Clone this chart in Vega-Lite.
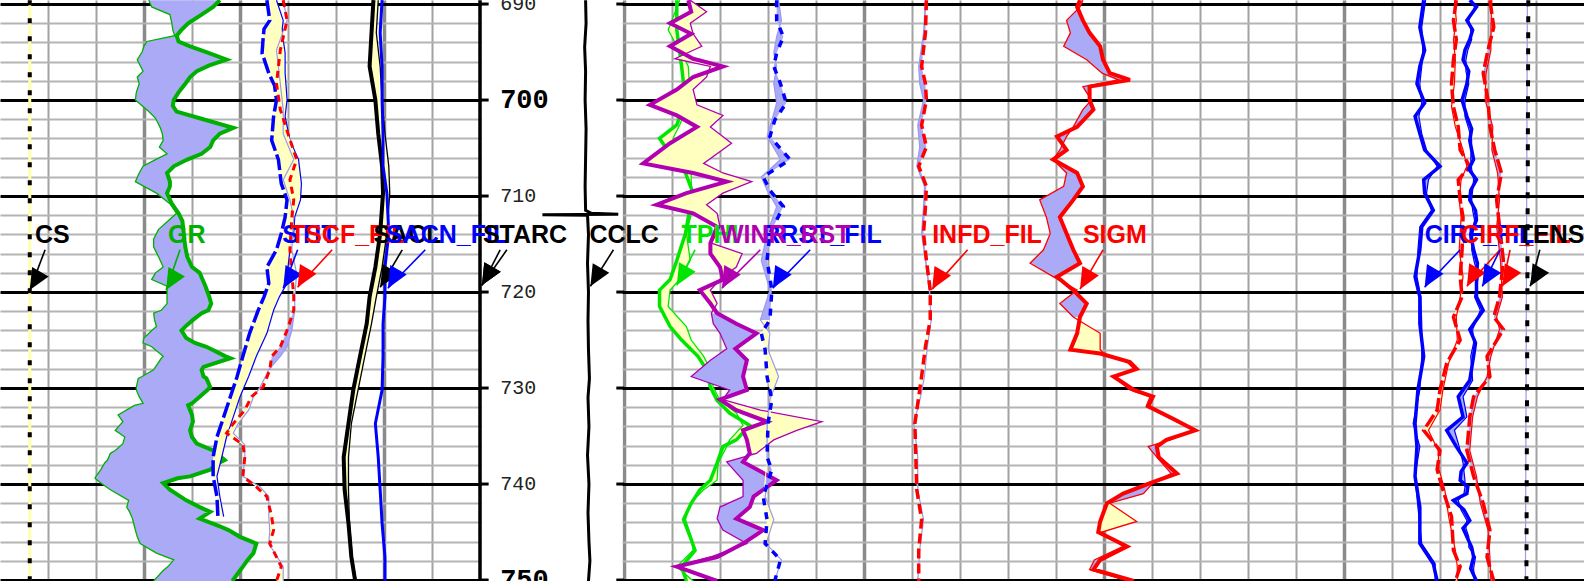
{
"$schema":"https://vega.github.io/schema/vega-lite/v6.json",
"width":1584,"height":581,"padding":0,
"autosize":{"type":"none"},
"background":"white",
"config":{"view":{"stroke":null},"axis":{"minExtent":0,"maxExtent":0,"labels":false,"ticks":false,"domain":false}},
"datasets":{
"gr":[{"d":689.6,"a":15.5,"b":22.9},{"d":690.3,"a":15.8,"b":22.2},{"d":691.1,"a":17.7,"b":21.0},{"d":692.0,"a":17.9,"b":19.6},{"d":692.7,"a":18.0,"b":18.9},{"d":693.3,"a":18.2,"b":18.4},{"d":693.9,"a":15.3,"b":18.6},{"d":694.4,"a":15.0,"b":19.8},{"d":695.0,"a":14.8,"b":21.5},{"d":695.8,"a":14.3,"b":23.6},{"d":696.4,"a":14.6,"b":21.8},{"d":697.0,"a":14.9,"b":20.5},{"d":697.6,"a":14.3,"b":19.8},{"d":698.3,"a":14.5,"b":19.3},{"d":699.2,"a":14.2,"b":18.6},{"d":700.0,"a":14.1,"b":18.1},{"d":700.6,"a":14.8,"b":18.0},{"d":701.2,"a":15.5,"b":18.4},{"d":701.9,"a":16.2,"b":20.8},{"d":702.9,"a":16.7,"b":24.3},{"d":703.5,"a":16.9,"b":22.9},{"d":704.2,"a":17.0,"b":22.2},{"d":704.9,"a":16.6,"b":21.9},{"d":705.6,"a":17.4,"b":21.0},{"d":706.2,"a":16.2,"b":19.5},{"d":706.9,"a":14.9,"b":18.1},{"d":707.6,"a":14.5,"b":17.4},{"d":708.5,"a":14.1,"b":17.7},{"d":709.0,"a":15.0,"b":17.7},{"d":709.7,"a":16.3,"b":17.4},{"d":710.8,"a":17.7,"b":17.9},{"d":711.8,"a":18.4,"b":18.6},{"d":712.6,"a":17.5,"b":19.0},{"d":713.5,"a":16.5,"b":19.1},{"d":714.5,"a":16.0,"b":19.2},{"d":715.3,"a":16.0,"b":19.3},{"d":716.3,"a":16.5,"b":19.5},{"d":717.4,"a":17.0,"b":20.0},{"d":718.0,"a":16.2,"b":20.8},{"d":718.7,"a":15.8,"b":21.1},{"d":719.4,"a":17.4,"b":21.4},{"d":720.5,"a":17.4,"b":21.8},{"d":721.2,"a":17.4,"b":22.0},{"d":721.9,"a":16.8,"b":21.7},{"d":722.2,"a":16.0,"b":21.0},{"d":722.9,"a":16.1,"b":20.1},{"d":723.6,"a":16.3,"b":19.3},{"d":724.0,"a":15.8,"b":18.9},{"d":724.8,"a":15.0,"b":19.4},{"d":725.3,"a":14.9,"b":20.3},{"d":725.7,"a":15.8,"b":21.5},{"d":726.7,"a":17.0,"b":23.5},{"d":726.9,"a":16.8,"b":24.0},{"d":727.8,"a":16.2,"b":21.2},{"d":728.1,"a":16.0,"b":21.0},{"d":728.8,"a":14.8,"b":21.2},{"d":729.0,"a":14.4,"b":21.5},{"d":729.9,"a":14.2,"b":21.9},{"d":730.2,"a":14.2,"b":21.6},{"d":730.9,"a":14.5,"b":20.8},{"d":731.6,"a":14.9,"b":20.0},{"d":731.8,"a":14.0,"b":19.6},{"d":732.8,"a":12.3,"b":20.0},{"d":733.5,"a":12.8,"b":20.1},{"d":734.4,"a":12.0,"b":19.8},{"d":735.1,"a":13.0,"b":20.0},{"d":735.8,"a":12.8,"b":20.5},{"d":736.5,"a":12.0,"b":22.2},{"d":736.8,"a":11.5,"b":22.6},{"d":737.5,"a":11.2,"b":23.4},{"d":737.8,"a":10.9,"b":22.8},{"d":738.5,"a":10.5,"b":21.9},{"d":739.2,"a":10.0,"b":19.8},{"d":739.4,"a":9.9,"b":18.5},{"d":739.9,"a":10.5,"b":17.0},{"d":740.6,"a":11.5,"b":17.7},{"d":741.7,"a":13.4,"b":19.4},{"d":742.4,"a":13.2,"b":20.8},{"d":742.9,"a":13.5,"b":21.9},{"d":743.6,"a":13.8,"b":20.8},{"d":744.4,"a":14.0,"b":22.9},{"d":744.8,"a":14.1,"b":23.8},{"d":745.5,"a":14.3,"b":25.0},{"d":746.2,"a":14.6,"b":26.7},{"d":747.2,"a":16.3,"b":26.4},{"d":747.9,"a":18.1,"b":25.8},{"d":748.6,"a":17.5,"b":25.3},{"d":749.0,"a":17.0,"b":25.0},{"d":750.1,"a":16.0,"b":24.2}],
"sti":[{"d":689.6,"a":27.8,"b":28.8},{"d":691.7,"a":28.1,"b":29.5},{"d":692.6,"a":27.5,"b":29.4},{"d":693.7,"a":27.4,"b":29.5},{"d":695.1,"a":27.3,"b":29.7},{"d":697.2,"a":28.0,"b":29.7},{"d":698.5,"a":28.6,"b":29.8},{"d":700.0,"a":28.8,"b":29.9},{"d":701.7,"a":28.5,"b":29.7},{"d":704.2,"a":28.3,"b":30.2},{"d":706.2,"a":29.0,"b":31.1},{"d":708.7,"a":29.3,"b":31.4},{"d":710.4,"a":29.9,"b":31.3},{"d":712.2,"a":29.7,"b":30.7},{"d":713.9,"a":29.3,"b":30.6},{"d":715.6,"a":28.8,"b":30.2},{"d":717.4,"a":27.8,"b":30.0},{"d":719.1,"a":28.0,"b":29.9},{"d":720.5,"a":27.5,"b":29.1},{"d":721.9,"a":26.9,"b":28.5},{"d":724.3,"a":26.0,"b":27.8},{"d":726.7,"a":25.3,"b":26.7},{"d":728.8,"a":24.7,"b":25.9},{"d":730.9,"a":24.0,"b":25.0},{"d":733.0,"a":23.3,"b":24.3},{"d":735.1,"a":22.6,"b":23.6},{"d":737.2,"a":22.2,"b":23.1},{"d":739.2,"a":22.2,"b":22.6},{"d":741.3,"a":22.6,"b":22.9},{"d":743.4,"a":22.7,"b":23.3}],
"scf":[{"d":689.6,"a":29.5,"b":29.5},{"d":691.7,"a":29.9,"b":29.9},{"d":694.8,"a":29.2,"b":28.8},{"d":698.3,"a":28.8,"b":29.2},{"d":701.0,"a":29.2,"b":29.5},{"d":703.5,"a":30.0,"b":29.5},{"d":706.2,"a":30.9,"b":30.6},{"d":708.3,"a":30.2,"b":29.5},{"d":710.4,"a":30.6,"b":30.2},{"d":712.2,"a":30.4,"b":30.6},{"d":715.6,"a":30.2,"b":30.4},{"d":718.1,"a":30.4,"b":30.9},{"d":720.5,"a":30.6,"b":30.7},{"d":721.9,"a":30.6,"b":30.7},{"d":724.0,"a":29.9,"b":30.4},{"d":725.7,"a":29.2,"b":29.9},{"d":726.7,"a":28.3,"b":29.2},{"d":728.1,"a":28.1,"b":28.0},{"d":729.9,"a":27.4,"b":27.1},{"d":730.9,"a":26.2,"b":26.4},{"d":732.3,"a":25.5,"b":25.9},{"d":733.7,"a":24.3,"b":24.8},{"d":734.7,"a":23.6,"b":24.3},{"d":735.9,"a":25.3,"b":25.5},{"d":737.2,"a":25.5,"b":25.5},{"d":739.2,"a":25.3,"b":25.3},{"d":740.3,"a":26.7,"b":27.1},{"d":741.3,"a":27.8,"b":28.0},{"d":743.4,"a":28.3,"b":28.0},{"d":744.8,"a":28.5,"b":28.1},{"d":746.2,"a":28.1,"b":28.0},{"d":748.6,"a":29.3,"b":29.5},{"d":750.1,"a":28.8,"b":29.5}],
"sac":[{"d":689.6,"a":38.9,"b":39.4,"c":39.8},{"d":693.0,"a":38.7,"b":39.2,"c":39.6},{"d":696.5,"a":38.5,"b":39.6,"c":39.8},{"d":700.0,"a":39.1,"b":39.8,"c":39.8},{"d":703.5,"a":39.4,"b":40.1,"c":39.9},{"d":706.9,"a":39.8,"b":40.5,"c":39.9},{"d":709.7,"a":39.9,"b":40.6,"c":40.3},{"d":713.9,"a":39.6,"b":40.3,"c":40.5},{"d":717.4,"a":39.1,"b":39.8,"c":40.1},{"d":720.5,"a":38.5,"b":39.2,"c":40.1},{"d":723.3,"a":38.2,"b":38.7,"c":39.9},{"d":726.7,"a":37.5,"b":38.0,"c":39.9},{"d":730.2,"a":36.8,"b":37.3,"c":39.8},{"d":733.7,"a":36.3,"b":36.6,"c":39.1},{"d":737.2,"a":35.8,"b":36.3,"c":39.4},{"d":740.6,"a":35.9,"b":36.3,"c":39.6},{"d":744.1,"a":36.3,"b":36.4,"c":39.8},{"d":747.6,"a":36.6,"b":36.7,"c":40.1},{"d":750.1,"a":37.0,"b":37.1,"c":40.1}],
"cs":[{"d":689.6,"v":3.1},{"d":750.1,"v":3.1}],
"starc":[{"d":689.6,"v":50.0},{"d":750.1,"v":50.0}],
"cclc":[{"d":689.6,"v":61.0},{"d":692.0,"v":61.05},{"d":694.5,"v":60.9},{"d":697.0,"v":61.0},{"d":700.0,"v":60.95},{"d":703.0,"v":61.05},{"d":706.0,"v":61.0},{"d":709.0,"v":60.95},{"d":711.5,"v":61.0},{"d":711.8,"v":61.6},{"d":711.9,"v":64.4},{"d":711.95,"v":56.5},{"d":712.0,"v":61.2},{"d":714.0,"v":61.3},{"d":717.0,"v":61.2},{"d":720.0,"v":61.3},{"d":723.0,"v":61.25},{"d":726.0,"v":61.3},{"d":729.0,"v":61.4},{"d":731.0,"v":61.25},{"d":734.0,"v":61.35},{"d":737.0,"v":61.2},{"d":740.0,"v":61.35},{"d":743.0,"v":61.25},{"d":746.0,"v":61.35},{"d":748.0,"v":61.45},{"d":750.1,"v":61.3}],
"tphi":[{"d":689.6,"a":70.5,"b":70.8},{"d":692.7,"a":70.5,"b":69.6},{"d":696.5,"a":71.0,"b":71.7},{"d":700.0,"a":71.4,"b":71.9},{"d":702.6,"a":70.5,"b":70.8},{"d":704.0,"a":68.7,"b":70.1},{"d":705.6,"a":69.8,"b":71.0},{"d":707.6,"a":71.4,"b":72.0},{"d":709.7,"a":72.2,"b":72.0},{"d":711.1,"a":71.9,"b":72.2},{"d":713.9,"a":71.4,"b":71.5},{"d":716.7,"a":70.5,"b":71.9},{"d":718.7,"a":69.8,"b":70.8},{"d":719.8,"a":68.7,"b":69.8},{"d":721.5,"a":68.7,"b":69.6},{"d":723.6,"a":69.8,"b":71.5},{"d":725.0,"a":71.0,"b":72.0},{"d":726.7,"a":72.7,"b":73.3},{"d":728.1,"a":73.6,"b":74.0},{"d":729.9,"a":74.0,"b":74.3},{"d":731.3,"a":74.7,"b":75.0},{"d":732.6,"a":76.0,"b":76.7},{"d":733.9,"a":78.1,"b":77.4},{"d":735.4,"a":76.7,"b":76.0},{"d":736.1,"a":75.3,"b":75.7},{"d":737.8,"a":74.7,"b":74.8},{"d":739.6,"a":74.0,"b":74.7},{"d":740.6,"a":72.9,"b":73.3},{"d":742.0,"a":72.0,"b":71.9},{"d":743.7,"a":71.2,"b":71.4},{"d":745.5,"a":71.9,"b":72.0},{"d":746.9,"a":72.4,"b":72.2},{"d":748.6,"a":71.0,"b":70.5},{"d":750.1,"a":71.5,"b":72.2}],
"win":[{"d":689.6,"a":71.7,"b":71.9},{"d":690.8,"a":72.0,"b":73.6},{"d":692.0,"a":69.8,"b":71.9},{"d":693.1,"a":72.0,"b":72.2},{"d":694.4,"a":69.8,"b":73.1},{"d":695.7,"a":72.2,"b":70.3},{"d":696.5,"a":75.3,"b":74.0},{"d":697.6,"a":72.2,"b":73.6},{"d":698.9,"a":70.5,"b":72.2},{"d":700.5,"a":67.7,"b":72.6},{"d":701.6,"a":70.5,"b":75.3},{"d":702.8,"a":72.6,"b":74.0},{"d":704.5,"a":69.8,"b":76.2},{"d":706.6,"a":67.0,"b":73.3},{"d":707.6,"a":72.2,"b":75.3},{"d":708.5,"a":75.7,"b":78.3},{"d":709.7,"a":71.5,"b":75.3},{"d":710.9,"a":68.4,"b":73.6},{"d":711.8,"a":72.2,"b":74.7},{"d":713.2,"a":74.7,"b":75.0},{"d":714.9,"a":74.0,"b":74.1},{"d":716.0,"a":74.0,"b":77.3},{"d":717.4,"a":75.0,"b":76.7},{"d":718.7,"a":75.3,"b":75.0},{"d":719.8,"a":72.9,"b":74.0},{"d":721.2,"a":74.0,"b":74.7},{"d":722.2,"a":74.7,"b":74.1},{"d":723.3,"a":76.7,"b":74.3},{"d":724.3,"a":78.8,"b":75.0},{"d":725.9,"a":76.6,"b":75.7},{"d":727.1,"a":77.8,"b":74.0},{"d":728.8,"a":77.4,"b":72.0},{"d":730.2,"a":77.8,"b":76.0},{"d":731.2,"a":75.0,"b":75.3},{"d":732.3,"a":76.7,"b":79.2},{"d":733.5,"a":79.9,"b":85.6},{"d":734.4,"a":77.4,"b":83.0},{"d":735.4,"a":77.8,"b":80.6},{"d":736.8,"a":78.1,"b":78.8},{"d":737.7,"a":77.4,"b":75.7},{"d":739.6,"a":80.9,"b":77.4},{"d":741.3,"a":78.5,"b":77.4},{"d":742.4,"a":78.1,"b":75.0},{"d":743.6,"a":76.7,"b":74.7},{"d":744.8,"a":79.5,"b":75.3},{"d":746.2,"a":77.4,"b":77.8},{"d":747.6,"a":74.7,"b":74.0},{"d":748.6,"a":70.5,"b":70.3},{"d":750.1,"a":74.7,"b":74.7}],
"rrst":[{"d":689.6,"a":80.9,"b":81.1},{"d":691.7,"a":80.9,"b":81.4},{"d":693.4,"a":81.6,"b":80.9},{"d":695.1,"a":80.9,"b":80.6},{"d":696.5,"a":80.6,"b":80.9},{"d":698.3,"a":81.3,"b":80.6},{"d":700.3,"a":81.9,"b":80.9},{"d":702.1,"a":80.7,"b":80.4},{"d":703.8,"a":80.2,"b":79.9},{"d":706.2,"a":82.3,"b":81.3},{"d":708.0,"a":79.5,"b":79.3},{"d":709.4,"a":80.2,"b":79.9},{"d":711.1,"a":81.6,"b":80.9},{"d":713.9,"a":80.2,"b":79.9},{"d":716.7,"a":79.9,"b":79.3},{"d":719.8,"a":80.4,"b":80.2},{"d":722.9,"a":80.2,"b":79.2},{"d":724.3,"a":79.3,"b":80.2},{"d":726.0,"a":79.7,"b":80.0},{"d":728.8,"a":79.9,"b":81.1},{"d":731.2,"a":80.4,"b":80.2},{"d":733.7,"a":80.0,"b":79.9},{"d":737.2,"a":79.9,"b":79.9},{"d":738.5,"a":80.4,"b":80.2},{"d":741.3,"a":79.5,"b":79.7},{"d":743.7,"a":79.9,"b":80.6},{"d":746.2,"a":79.7,"b":79.8},{"d":747.9,"a":81.3,"b":81.4},{"d":750.1,"a":80.7,"b":80.7}],
"infd":[{"d":689.6,"a":96.5,"b":96.4},{"d":693.0,"a":96.4,"b":96.2},{"d":696.5,"a":96.0,"b":95.7},{"d":698.3,"a":96.4,"b":95.8},{"d":700.0,"a":96.5,"b":96.2},{"d":702.6,"a":96.0,"b":95.6},{"d":704.9,"a":96.5,"b":95.8},{"d":706.9,"a":95.7,"b":95.5},{"d":709.0,"a":96.5,"b":96.3},{"d":711.1,"a":96.4,"b":96.2},{"d":713.9,"a":96.2,"b":96.0},{"d":716.7,"a":96.5,"b":96.4},{"d":719.8,"a":96.9,"b":96.8},{"d":722.9,"a":96.9,"b":97.0},{"d":725.7,"a":96.4,"b":96.6},{"d":728.8,"a":96.0,"b":96.3},{"d":730.9,"a":95.7,"b":95.9},{"d":733.7,"a":95.3,"b":95.2},{"d":737.2,"a":95.4,"b":95.6},{"d":740.6,"a":95.5,"b":95.6},{"d":743.7,"a":96.0,"b":96.2},{"d":746.9,"a":95.7,"b":95.8},{"d":750.1,"a":95.7,"b":95.6}],
"sigm":[{"d":689.6,"a":112.5,"b":112.8},{"d":690.3,"a":112.2,"b":112.5},{"d":691.7,"a":112.8,"b":111.1},{"d":693.0,"a":113.5,"b":111.5},{"d":694.4,"a":114.6,"b":110.8},{"d":695.8,"a":114.9,"b":113.2},{"d":697.2,"a":115.6,"b":114.8},{"d":697.9,"a":117.7,"b":116.5},{"d":698.6,"a":113.5,"b":112.8},{"d":700.0,"a":113.5,"b":113.7},{"d":701.0,"a":113.9,"b":112.8},{"d":702.8,"a":112.2,"b":111.8},{"d":703.8,"a":110.1,"b":111.1},{"d":705.2,"a":111.1,"b":110.4},{"d":706.2,"a":109.7,"b":109.7},{"d":707.6,"a":112.2,"b":111.1},{"d":709.0,"a":112.8,"b":110.8},{"d":710.4,"a":111.8,"b":108.3},{"d":712.2,"a":110.4,"b":109.0},{"d":713.9,"a":111.1,"b":109.4},{"d":715.6,"a":111.8,"b":108.7},{"d":717.0,"a":112.5,"b":107.3},{"d":718.4,"a":110.1,"b":109.7},{"d":719.8,"a":111.8,"b":112.2},{"d":721.2,"a":113.2,"b":110.4},{"d":722.6,"a":112.5,"b":111.8},{"d":724.3,"a":112.2,"b":114.6},{"d":726.0,"a":111.5,"b":114.6},{"d":726.4,"a":114.6,"b":115.0},{"d":727.3,"a":117.7,"b":117.4},{"d":728.0,"a":118.4,"b":118.1},{"d":728.8,"a":116.0,"b":116.0},{"d":730.2,"a":118.1,"b":117.7},{"d":730.9,"a":120.1,"b":119.8},{"d":731.9,"a":119.6,"b":119.4},{"d":733.2,"a":122.2,"b":121.9},{"d":734.4,"a":124.5,"b":124.3},{"d":735.4,"a":121.5,"b":121.9},{"d":736.1,"a":120.5,"b":119.6},{"d":737.2,"a":120.7,"b":120.5},{"d":738.9,"a":122.6,"b":122.0},{"d":739.9,"a":119.8,"b":120.1},{"d":741.0,"a":117.0,"b":119.1},{"d":742.0,"a":115.3,"b":115.6},{"d":743.9,"a":114.6,"b":118.4},{"d":745.0,"a":114.4,"b":114.8},{"d":746.5,"a":117.4,"b":117.0},{"d":747.9,"a":114.6,"b":114.0},{"d":748.9,"a":113.9,"b":113.5},{"d":750.1,"a":118.1,"b":117.5}],
"cirf1":[{"d":689.6,"a":148.3,"b":148.5},{"d":692.4,"a":147.9,"b":148.1},{"d":694.8,"a":148.4,"b":148.2},{"d":696.5,"a":147.9,"b":148.1},{"d":698.3,"a":147.6,"b":147.9},{"d":700.3,"a":148.4,"b":148.1},{"d":701.7,"a":147.4,"b":147.8},{"d":703.5,"a":147.9,"b":148.1},{"d":705.2,"a":148.4,"b":148.6},{"d":706.9,"a":150.0,"b":149.7},{"d":708.3,"a":148.3,"b":148.8},{"d":709.7,"a":148.4,"b":148.6},{"d":711.5,"a":149.3,"b":149.1},{"d":713.2,"a":148.1,"b":147.9},{"d":715.6,"a":147.9,"b":147.7},{"d":718.4,"a":147.4,"b":147.6},{"d":720.5,"a":147.9,"b":148.0},{"d":723.3,"a":147.9,"b":148.1},{"d":726.7,"a":148.3,"b":148.1},{"d":730.2,"a":147.7,"b":147.9},{"d":733.7,"a":147.4,"b":147.2},{"d":736.1,"a":147.6,"b":147.9},{"d":739.2,"a":147.4,"b":147.4},{"d":742.4,"a":147.9,"b":147.7},{"d":746.2,"a":147.9,"b":148.1},{"d":748.3,"a":149.3,"b":149.5},{"d":750.1,"a":149.7,"b":149.5}],
"cirf2":[{"d":689.6,"a":151.7,"b":151.5},{"d":691.7,"a":151.4,"b":151.7},{"d":693.7,"a":151.7,"b":151.4},{"d":695.8,"a":151.4,"b":151.6},{"d":698.3,"a":151.2,"b":151.5},{"d":700.7,"a":151.4,"b":151.2},{"d":702.8,"a":151.9,"b":151.6},{"d":705.2,"a":152.1,"b":152.4},{"d":706.9,"a":153.1,"b":152.8},{"d":708.3,"a":151.9,"b":152.2},{"d":710.4,"a":152.1,"b":152.0},{"d":712.2,"a":152.4,"b":152.2},{"d":715.6,"a":152.3,"b":152.0},{"d":718.4,"a":152.1,"b":152.4},{"d":720.5,"a":152.3,"b":152.1},{"d":722.6,"a":151.4,"b":151.7},{"d":725.0,"a":152.1,"b":151.8},{"d":727.4,"a":150.7,"b":150.9},{"d":730.2,"a":150.0,"b":150.3},{"d":732.3,"a":149.7,"b":150.0},{"d":734.4,"a":148.3,"b":148.8},{"d":736.5,"a":150.0,"b":149.8},{"d":738.5,"a":149.7,"b":149.9},{"d":740.6,"a":150.3,"b":150.5},{"d":743.4,"a":151.2,"b":150.9},{"d":746.9,"a":151.4,"b":151.6},{"d":748.6,"a":152.1,"b":151.8},{"d":750.1,"a":151.6,"b":151.8}],
"cirn1":[{"d":689.6,"a":153.1,"b":153.3},{"d":690.3,"a":153.8,"b":153.6},{"d":691.7,"a":152.8,"b":153.0},{"d":692.7,"a":153.4,"b":153.2},{"d":693.7,"a":153.1,"b":153.3},{"d":694.8,"a":152.6,"b":152.9},{"d":695.8,"a":152.4,"b":152.7},{"d":697.0,"a":153.0,"b":152.7},{"d":698.3,"a":152.8,"b":153.0},{"d":700.0,"a":152.3,"b":152.6},{"d":701.7,"a":152.8,"b":152.6},{"d":703.0,"a":153.3,"b":153.0},{"d":704.2,"a":153.1,"b":153.3},{"d":706.2,"a":153.5,"b":153.2},{"d":707.2,"a":153.0,"b":153.3},{"d":708.3,"a":153.8,"b":153.5},{"d":709.4,"a":153.2,"b":153.4},{"d":710.4,"a":153.1,"b":153.3},{"d":711.5,"a":153.7,"b":153.4},{"d":712.5,"a":153.8,"b":153.6},{"d":714.0,"a":153.2,"b":153.4},{"d":715.6,"a":153.5,"b":153.3},{"d":717.0,"a":153.9,"b":153.6},{"d":718.4,"a":153.8,"b":154.0},{"d":720.5,"a":153.8,"b":153.6},{"d":721.9,"a":154.5,"b":154.2},{"d":723.9,"a":153.1,"b":153.4},{"d":725.3,"a":153.7,"b":153.5},{"d":726.7,"a":153.5,"b":153.2},{"d":729.2,"a":153.1,"b":153.4},{"d":730.9,"a":151.9,"b":152.4},{"d":733.0,"a":152.4,"b":152.8},{"d":734.4,"a":150.7,"b":151.5},{"d":736.1,"a":151.7,"b":152.0},{"d":737.8,"a":152.8,"b":152.4},{"d":738.7,"a":152.2,"b":152.5},{"d":739.6,"a":152.1,"b":152.6},{"d":740.3,"a":152.9,"b":152.6},{"d":741.0,"a":152.8,"b":152.5},{"d":741.7,"a":151.4,"b":151.9},{"d":742.7,"a":152.5,"b":152.2},{"d":743.8,"a":153.1,"b":152.8},{"d":744.6,"a":152.4,"b":152.7},{"d":745.5,"a":152.8,"b":153.0},{"d":746.6,"a":153.3,"b":153.0},{"d":747.6,"a":153.5,"b":153.7},{"d":748.8,"a":153.2,"b":153.5},{"d":750.1,"a":153.8,"b":153.6}],
"cirn2":[{"d":689.6,"a":155.2,"b":155.4},{"d":692.4,"a":155.6,"b":155.3},{"d":694.8,"a":155.0,"b":155.3},{"d":697.2,"a":154.5,"b":154.8},{"d":700.0,"a":155.0,"b":154.7},{"d":702.8,"a":155.2,"b":155.5},{"d":705.2,"a":155.7,"b":155.4},{"d":707.6,"a":156.4,"b":156.0},{"d":710.4,"a":155.9,"b":156.2},{"d":713.2,"a":156.2,"b":155.9},{"d":716.7,"a":156.6,"b":156.3},{"d":720.5,"a":156.2,"b":156.5},{"d":722.6,"a":155.6,"b":155.9},{"d":723.9,"a":156.6,"b":156.2},{"d":726.7,"a":154.9,"b":155.3},{"d":728.8,"a":155.2,"b":154.9},{"d":730.9,"a":153.5,"b":153.9},{"d":733.0,"a":153.1,"b":153.4},{"d":736.5,"a":152.8,"b":153.1},{"d":739.2,"a":153.5,"b":153.8},{"d":742.0,"a":154.5,"b":154.2},{"d":744.8,"a":155.2,"b":155.0},{"d":747.6,"a":154.9,"b":155.2},{"d":750.1,"a":155.6,"b":155.3}],
"tens":[{"d":689.6,"a":159.2,"b":159.1},{"d":720.0,"a":159.1,"b":159.0},{"d":750.1,"a":159.0,"b":158.9}],
"depth":[{"d":690},{"d":700},{"d":710},{"d":720},{"d":730},{"d":740},{"d":750}],
"labels":[{"key":"CS","name":"CS","x":3.65,"d":714.9},{"key":"GR","name":"GR","x":17.5,"d":714.9},{"key":"STIT","name":"STIT","x":29.4,"d":714.9},{"key":"TSCF_FIL","name":"TSCF_FIL","x":30.2,"d":714.9},{"key":"SACL","name":"SACL","x":38.9,"d":714.9},{"key":"SACN_FIL","name":"SACN_FIL","x":40.2,"d":714.9},{"key":"STARC","name":"STARC","x":50.3,"d":714.9},{"key":"CCLC","name":"CCLC","x":61.4,"d":714.9},{"key":"TPHI","name":"TPHI","x":71.0,"d":714.9},{"key":"RRST_FIL","name":"RRST_FIL","x":79.4,"d":714.9},{"key":"WINR_RST","name":"WINR_RST","x":75.0,"d":714.9},{"key":"INFD_FIL","name":"INFD_FIL","x":97.1,"d":714.9},{"key":"SIGM","name":"SIGM","x":112.8,"d":714.9},{"key":"CIRF_B","name":"CIRF_FIL","x":148.4,"d":714.9},{"key":"CIRF_R","name":"CIRF_FIL","x":152.2,"d":714.9},{"key":"TENS","name":"TENS","x":158.1,"d":714.9}],
"arrows":[{"key":"CS","x":4.7,"d":715.6,"x2":3.1,"d2":719.8},{"key":"GR","x":18.75,"d":715.6,"x2":17.3,"d2":719.8},{"key":"STIT","x":31.0,"d":715.6,"x2":29.5,"d2":719.6},{"key":"TSCF_FIL","x":34.6,"d":715.6,"x2":31.0,"d2":719.5},{"key":"SACL","x":41.9,"d":715.6,"x2":39.6,"d2":719.5},{"key":"SACN_FIL","x":44.3,"d":715.6,"x2":40.4,"d2":719.6},{"key":"STARC","x":52.8,"d":715.6,"x2":50.2,"d2":719.3},{"key":"STARC","x":52.1,"d":715.6,"x2":50.2,"d2":719.3},{"key":"CCLC","x":63.9,"d":715.6,"x2":61.5,"d2":719.4},{"key":"TPHI","x":72.4,"d":715.6,"x2":70.5,"d2":719.3},{"key":"WINR_RST","x":79.2,"d":715.6,"x2":75.2,"d2":719.6},{"key":"RRST_FIL","x":84.4,"d":715.6,"x2":80.5,"d2":719.6},{"key":"INFD_FIL","x":100.8,"d":715.6,"x2":97.1,"d2":719.7},{"key":"SIGM","x":114.9,"d":715.6,"x2":112.5,"d2":719.7},{"key":"CIRF_B","x":152.1,"d":715.6,"x2":148.4,"d2":719.5},{"key":"CIRF_R","x":156.25,"d":715.6,"x2":152.8,"d2":719.4},{"key":"CIRN_B","x":156.25,"d":715.6,"x2":154.4,"d2":719.4},{"key":"CIRN_R","x":157.3,"d":715.6,"x2":156.5,"d2":719.4},{"key":"TENS","x":160.4,"d":715.6,"x2":159.4,"d2":719.4}]
},
"layer":[
{"data":{"name":"gr"},"mark":{"type":"area","orient":"horizontal","color":"#aaaaf6"},
 "encoding":{
  "x":{"field":"a","type":"quantitative","stack":null,"scale":{"domain":[0,165],"nice":false,"zero":false},
   "axis":{"values":[5,10,15,20,25,30,35,40,45,65,70,75,80,85,90,95,100,105,110,115,120,125,130,135,140,145,150,155,160],"tickCount":200,"grid":true,
    "gridColor":{"condition":{"test":"datum.value === 25 || datum.value % 25 === 15","value":"#8a8a8a"},"value":"#a2a2a2"},
    "gridWidth":{"condition":{"test":"datum.value === 25 || datum.value % 25 === 15","value":3.5},"value":2},
    "labels":false,"ticks":false,"domain":false,"title":null}},
  "x2":{"field":"b"},
  "y":{"field":"d","type":"quantitative","scale":{"domain":[689.58,750.1],"reverse":true,"nice":false,"zero":false},
   "axis":{"values":[690,692,694,696,698,700,702,704,706,708,710,712,714,716,718,720,722,724,726,728,730,732,734,736,738,740,742,744,746,748,750],"tickCount":200,"grid":true,
    "gridColor":{"condition":{"test":"datum.value % 10 === 0","value":"#000000"},"value":"#b4b4b4"},
    "gridWidth":{"condition":{"test":"datum.value % 10 === 0","value":3},"value":2},
    "labels":false,"ticks":false,"domain":false,"title":null}}}},
{"data":{"values":[{}]},"mark":{"type":"rect","color":"white"},"encoding":{"x":{"datum":50.2},"x2":{"datum":64.85},"y":{"datum":689.58},"y2":{"datum":750.1}}},
{"data":{"name":"cs"},"mark":{"type":"line","color":"#ffffb0","strokeWidth":3},"encoding":{"x":{"field":"v","type":"quantitative"},"y":{"field":"d","type":"quantitative"},"order":{"field":"d"}}},
{"data":{"name":"cs"},"mark":{"type":"line","color":"#000000","strokeWidth":4,"strokeDash":[5,13]},"encoding":{"x":{"field":"v","type":"quantitative"},"y":{"field":"d","type":"quantitative"},"order":{"field":"d"}}},
{"data":{"name":"gr"},"mark":{"type":"line","color":"#00b000","strokeWidth":1.3},"encoding":{"x":{"field":"a","type":"quantitative"},"y":{"field":"d","type":"quantitative"},"order":{"field":"d"}}},
{"data":{"name":"gr"},"mark":{"type":"line","color":"#00b000","strokeWidth":4},"encoding":{"x":{"field":"b","type":"quantitative"},"y":{"field":"d","type":"quantitative"},"order":{"field":"d"}}},
{"data":{"name":"sti"},"mark":{"type":"area","orient":"horizontal","color":"#ffffc0"},"encoding":{"x":{"field":"a","type":"quantitative","stack":null},"x2":{"field":"b"},"y":{"field":"d","type":"quantitative"}}},
{"data":{"name":"sti"},"mark":{"type":"line","color":"#0000ff","strokeWidth":1.2},"encoding":{"x":{"field":"b","type":"quantitative"},"y":{"field":"d","type":"quantitative"},"order":{"field":"d"}}},
{"data":{"name":"sti"},"mark":{"type":"line","color":"#0000ff","strokeWidth":3.5,"strokeDash":[16,4]},"encoding":{"x":{"field":"a","type":"quantitative"},"y":{"field":"d","type":"quantitative"},"order":{"field":"d"}}},
{"data":{"name":"scf"},"transform":[{"filter":"datum.d <= 721.9 || datum.d >= 728.1"}],"mark":{"type":"area","orient":"horizontal","color":"#ffffc0"},"encoding":{"x":{"field":"a","type":"quantitative","stack":null},"x2":{"field":"b"},"y":{"field":"d","type":"quantitative"}}},
{"data":{"name":"scf"},"transform":[{"filter":"datum.d >= 721.9 && datum.d <= 728.1"}],"mark":{"type":"area","orient":"horizontal","color":"#aaaaf6"},"encoding":{"x":{"field":"a","type":"quantitative","stack":null},"x2":{"field":"b"},"y":{"field":"d","type":"quantitative"}}},
{"data":{"name":"scf"},"mark":{"type":"line","color":"#9a9af0","strokeWidth":1.2},"encoding":{"x":{"field":"b","type":"quantitative"},"y":{"field":"d","type":"quantitative"},"order":{"field":"d"}}},
{"data":{"name":"scf"},"mark":{"type":"line","color":"#ff0000","strokeWidth":3,"strokeDash":[7,5]},"encoding":{"x":{"field":"a","type":"quantitative"},"y":{"field":"d","type":"quantitative"},"order":{"field":"d"}}},
{"data":{"name":"sac"},"mark":{"type":"area","orient":"horizontal","color":"#ffffc0"},"encoding":{"x":{"field":"a","type":"quantitative","stack":null},"x2":{"field":"b"},"y":{"field":"d","type":"quantitative"}}},
{"data":{"name":"sac"},"mark":{"type":"line","color":"#000000","strokeWidth":1.3},"encoding":{"x":{"field":"b","type":"quantitative"},"y":{"field":"d","type":"quantitative"},"order":{"field":"d"}}},
{"data":{"name":"sac"},"mark":{"type":"line","color":"#000000","strokeWidth":4},"encoding":{"x":{"field":"a","type":"quantitative"},"y":{"field":"d","type":"quantitative"},"order":{"field":"d"}}},
{"data":{"name":"sac"},"mark":{"type":"line","color":"#0000ff","strokeWidth":3},"encoding":{"x":{"field":"c","type":"quantitative"},"y":{"field":"d","type":"quantitative"},"order":{"field":"d"}}},
{"data":{"name":"starc"},"mark":{"type":"line","color":"#000000","strokeWidth":3.5},"encoding":{"x":{"field":"v","type":"quantitative"},"y":{"field":"d","type":"quantitative"},"order":{"field":"d"}}},
{"data":{"name":"cclc"},"mark":{"type":"line","color":"#000000","strokeWidth":3},"encoding":{"x":{"field":"v","type":"quantitative"},"y":{"field":"d","type":"quantitative"},"order":{"field":"d"}}},
{"data":{"name":"tphi"},"mark":{"type":"area","orient":"horizontal","color":"#ffffc0"},"encoding":{"x":{"field":"a","type":"quantitative","stack":null},"x2":{"field":"b"},"y":{"field":"d","type":"quantitative"}}},
{"data":{"name":"tphi"},"mark":{"type":"line","color":"#00e600","strokeWidth":1.3},"encoding":{"x":{"field":"b","type":"quantitative"},"y":{"field":"d","type":"quantitative"},"order":{"field":"d"}}},
{"data":{"name":"tphi"},"mark":{"type":"line","color":"#00e600","strokeWidth":3.5},"encoding":{"x":{"field":"a","type":"quantitative"},"y":{"field":"d","type":"quantitative"},"order":{"field":"d"}}},
{"data":{"name":"win"},"transform":[{"filter":"datum.d <= 722.2"}],"mark":{"type":"area","orient":"horizontal","color":"#ffffc0"},"encoding":{"x":{"field":"a","type":"quantitative","stack":null},"x2":{"field":"b"},"y":{"field":"d","type":"quantitative"}}},
{"data":{"name":"win"},"transform":[{"filter":"datum.d >= 731.2 && datum.d <= 736.8"}],"mark":{"type":"area","orient":"horizontal","color":"#ffffc0"},"encoding":{"x":{"field":"a","type":"quantitative","stack":null},"x2":{"field":"b"},"y":{"field":"d","type":"quantitative"}}},
{"data":{"name":"win"},"transform":[{"filter":"datum.d >= 722.2 && datum.d <= 731.2"}],"mark":{"type":"area","orient":"horizontal","color":"#aaaaf6"},"encoding":{"x":{"field":"a","type":"quantitative","stack":null},"x2":{"field":"b"},"y":{"field":"d","type":"quantitative"}}},
{"data":{"name":"win"},"transform":[{"filter":"datum.d >= 736.8"}],"mark":{"type":"area","orient":"horizontal","color":"#aaaaf6"},"encoding":{"x":{"field":"a","type":"quantitative","stack":null},"x2":{"field":"b"},"y":{"field":"d","type":"quantitative"}}},
{"data":{"name":"win"},"mark":{"type":"line","color":"#b000b0","strokeWidth":1.3},"encoding":{"x":{"field":"b","type":"quantitative"},"y":{"field":"d","type":"quantitative"},"order":{"field":"d"}}},
{"data":{"name":"win"},"mark":{"type":"line","color":"#b000b0","strokeWidth":4},"encoding":{"x":{"field":"a","type":"quantitative"},"y":{"field":"d","type":"quantitative"},"order":{"field":"d"}}},
{"data":{"name":"rrst"},"transform":[{"filter":"datum.d <= 722.9"}],"mark":{"type":"area","orient":"horizontal","color":"#aaaaf6"},"encoding":{"x":{"field":"a","type":"quantitative","stack":null},"x2":{"field":"b"},"y":{"field":"d","type":"quantitative"}}},
{"data":{"name":"rrst"},"transform":[{"filter":"datum.d >= 731.2 && datum.d <= 741.3"}],"mark":{"type":"area","orient":"horizontal","color":"#aaaaf6"},"encoding":{"x":{"field":"a","type":"quantitative","stack":null},"x2":{"field":"b"},"y":{"field":"d","type":"quantitative"}}},
{"data":{"name":"rrst"},"transform":[{"filter":"(datum.d >= 722.9 && datum.d <= 731.2) || datum.d >= 741.3"}],"mark":{"type":"area","orient":"horizontal","color":"#ffffc0"},"encoding":{"x":{"field":"a","type":"quantitative","stack":null},"x2":{"field":"b"},"y":{"field":"d","type":"quantitative"}}},
{"data":{"name":"rrst"},"mark":{"type":"line","color":"#9a9af0","strokeWidth":1.2},"encoding":{"x":{"field":"b","type":"quantitative"},"y":{"field":"d","type":"quantitative"},"order":{"field":"d"}}},
{"data":{"name":"rrst"},"mark":{"type":"line","color":"#0000ff","strokeWidth":3.5,"strokeDash":[7,7]},"encoding":{"x":{"field":"a","type":"quantitative"},"y":{"field":"d","type":"quantitative"},"order":{"field":"d"}}},
{"data":{"name":"infd"},"transform":[{"filter":"datum.d <= 719.8"}],"mark":{"type":"area","orient":"horizontal","color":"#aaaaf6"},"encoding":{"x":{"field":"a","type":"quantitative","stack":null},"x2":{"field":"b"},"y":{"field":"d","type":"quantitative"}}},
{"data":{"name":"infd"},"transform":[{"filter":"datum.d >= 719.8"}],"mark":{"type":"area","orient":"horizontal","color":"#ffffc0"},"encoding":{"x":{"field":"a","type":"quantitative","stack":null},"x2":{"field":"b"},"y":{"field":"d","type":"quantitative"}}},
{"data":{"name":"infd"},"mark":{"type":"line","color":"#9a9af0","strokeWidth":1.2},"encoding":{"x":{"field":"b","type":"quantitative"},"y":{"field":"d","type":"quantitative"},"order":{"field":"d"}}},
{"data":{"name":"infd"},"mark":{"type":"line","color":"#ff0000","strokeWidth":3.5,"strokeDash":[10,5]},"encoding":{"x":{"field":"a","type":"quantitative"},"y":{"field":"d","type":"quantitative"},"order":{"field":"d"}}},
{"data":{"name":"sigm"},"transform":[{"filter":"datum.d <= 722.6"}],"mark":{"type":"area","orient":"horizontal","color":"#aaaaf6"},"encoding":{"x":{"field":"a","type":"quantitative","stack":null},"x2":{"field":"b"},"y":{"field":"d","type":"quantitative"}}},
{"data":{"name":"sigm"},"transform":[{"filter":"datum.d >= 727.3 && datum.d <= 742.0"}],"mark":{"type":"area","orient":"horizontal","color":"#aaaaf6"},"encoding":{"x":{"field":"a","type":"quantitative","stack":null},"x2":{"field":"b"},"y":{"field":"d","type":"quantitative"}}},
{"data":{"name":"sigm"},"transform":[{"filter":"datum.d >= 745.0"}],"mark":{"type":"area","orient":"horizontal","color":"#aaaaf6"},"encoding":{"x":{"field":"a","type":"quantitative","stack":null},"x2":{"field":"b"},"y":{"field":"d","type":"quantitative"}}},
{"data":{"name":"sigm"},"transform":[{"filter":"datum.d >= 722.6 && datum.d <= 727.3"}],"mark":{"type":"area","orient":"horizontal","color":"#ffffc0"},"encoding":{"x":{"field":"a","type":"quantitative","stack":null},"x2":{"field":"b"},"y":{"field":"d","type":"quantitative"}}},
{"data":{"name":"sigm"},"transform":[{"filter":"datum.d >= 742.0 && datum.d <= 745.0"}],"mark":{"type":"area","orient":"horizontal","color":"#ffffc0"},"encoding":{"x":{"field":"a","type":"quantitative","stack":null},"x2":{"field":"b"},"y":{"field":"d","type":"quantitative"}}},
{"data":{"name":"sigm"},"mark":{"type":"line","color":"#ff0000","strokeWidth":1.3},"encoding":{"x":{"field":"b","type":"quantitative"},"y":{"field":"d","type":"quantitative"},"order":{"field":"d"}}},
{"data":{"name":"sigm"},"mark":{"type":"line","color":"#ff0000","strokeWidth":4},"encoding":{"x":{"field":"a","type":"quantitative"},"y":{"field":"d","type":"quantitative"},"order":{"field":"d"}}},
{"data":{"name":"cirf1"},"mark":{"type":"area","orient":"horizontal","color":"#aaaaf6"},"encoding":{"x":{"field":"a","type":"quantitative","stack":null},"x2":{"field":"b"},"y":{"field":"d","type":"quantitative"}}},
{"data":{"name":"cirf1"},"mark":{"type":"line","color":"#0000ff","strokeWidth":1.2},"encoding":{"x":{"field":"b","type":"quantitative"},"y":{"field":"d","type":"quantitative"},"order":{"field":"d"}}},
{"data":{"name":"cirf1"},"mark":{"type":"line","color":"#0000ff","strokeWidth":3.5},"encoding":{"x":{"field":"a","type":"quantitative"},"y":{"field":"d","type":"quantitative"},"order":{"field":"d"}}},
{"data":{"name":"cirf2"},"mark":{"type":"area","orient":"horizontal","color":"#ffffc0"},"encoding":{"x":{"field":"a","type":"quantitative","stack":null},"x2":{"field":"b"},"y":{"field":"d","type":"quantitative"}}},
{"data":{"name":"cirf2"},"mark":{"type":"line","color":"#ff0000","strokeWidth":1.2},"encoding":{"x":{"field":"b","type":"quantitative"},"y":{"field":"d","type":"quantitative"},"order":{"field":"d"}}},
{"data":{"name":"cirf2"},"mark":{"type":"line","color":"#ff0000","strokeWidth":3.5,"strokeDash":[14,4]},"encoding":{"x":{"field":"a","type":"quantitative"},"y":{"field":"d","type":"quantitative"},"order":{"field":"d"}}},
{"data":{"name":"cirn1"},"mark":{"type":"area","orient":"horizontal","color":"#aaaaf6"},"encoding":{"x":{"field":"a","type":"quantitative","stack":null},"x2":{"field":"b"},"y":{"field":"d","type":"quantitative"}}},
{"data":{"name":"cirn1"},"mark":{"type":"line","color":"#0000ff","strokeWidth":1.2},"encoding":{"x":{"field":"b","type":"quantitative"},"y":{"field":"d","type":"quantitative"},"order":{"field":"d"}}},
{"data":{"name":"cirn1"},"mark":{"type":"line","color":"#0000ff","strokeWidth":3.5},"encoding":{"x":{"field":"a","type":"quantitative"},"y":{"field":"d","type":"quantitative"},"order":{"field":"d"}}},
{"data":{"name":"cirn2"},"mark":{"type":"area","orient":"horizontal","color":"#aaaaf6"},"encoding":{"x":{"field":"a","type":"quantitative","stack":null},"x2":{"field":"b"},"y":{"field":"d","type":"quantitative"}}},
{"data":{"name":"cirn2"},"mark":{"type":"line","color":"#ff0000","strokeWidth":1.2},"encoding":{"x":{"field":"b","type":"quantitative"},"y":{"field":"d","type":"quantitative"},"order":{"field":"d"}}},
{"data":{"name":"cirn2"},"mark":{"type":"line","color":"#ff0000","strokeWidth":3.5,"strokeDash":[14,4]},"encoding":{"x":{"field":"a","type":"quantitative"},"y":{"field":"d","type":"quantitative"},"order":{"field":"d"}}},
{"data":{"name":"tens"},"mark":{"type":"line","color":"#9a9af0","strokeWidth":1.2},"encoding":{"x":{"field":"b","type":"quantitative"},"y":{"field":"d","type":"quantitative"},"order":{"field":"d"}}},
{"data":{"name":"tens"},"mark":{"type":"line","color":"#000000","strokeWidth":4,"strokeDash":[6,10]},"encoding":{"x":{"field":"a","type":"quantitative"},"y":{"field":"d","type":"quantitative"},"order":{"field":"d"}}},
{"data":{"name":"depth"},"mark":{"type":"rule","color":"#000000","strokeWidth":3},"encoding":{"x":{"datum":50},"x2":{"datum":50.9},"y":{"field":"d","type":"quantitative"}}},
{"data":{"name":"depth"},"mark":{"type":"rule","color":"#000000","strokeWidth":3},"encoding":{"x":{"datum":64.2},"x2":{"datum":65},"y":{"field":"d","type":"quantitative"}}},
{"data":{"name":"depth"},"transform":[{"filter":"datum.d % 50 !== 0"}],"mark":{"type":"text","align":"left","baseline":"middle","font":"Liberation Mono","fontSize":20,"color":"#222222"},"encoding":{"x":{"datum":52.1},"y":{"field":"d","type":"quantitative"},"text":{"field":"d","type":"quantitative","format":"d"}}},
{"data":{"name":"depth"},"transform":[{"filter":"datum.d % 50 === 0"}],"mark":{"type":"text","align":"left","baseline":"middle","font":"Liberation Mono","fontWeight":"bold","fontSize":27,"color":"#000000"},"encoding":{"x":{"datum":52.1},"y":{"field":"d","type":"quantitative"},"text":{"field":"d","type":"quantitative","format":"d"}}},
{"data":{"name":"labels"},"mark":{"type":"text","align":"left","baseline":"alphabetic","font":"Liberation Sans","fontWeight":"bold","fontSize":25},"encoding":{"x":{"field":"x","type":"quantitative"},"y":{"field":"d","type":"quantitative"},"text":{"field":"name"},
  "color":{"field":"key","type":"nominal","legend":null,"scale":{"domain":["CS","GR","STIT","TSCF_FIL","SACL","SACN_FIL","STARC","CCLC","TPHI","WINR_RST","RRST_FIL","INFD_FIL","SIGM","CIRF_B","CIRF_R","CIRN_B","CIRN_R","TENS"],"range":["#000000","#00b000","#0000ff","#ff0000","#000000","#0000ff","#000000","#000000","#00e600","#b000b0","#0000ff","#ff0000","#ff0000","#0000ff","#ff0000","#0000ff","#ff0000","#000000"]}}}},
{"data":{"name":"arrows"},"mark":{"type":"rule","strokeWidth":1.6},"encoding":{"x":{"field":"x","type":"quantitative"},"y":{"field":"d","type":"quantitative"},"x2":{"field":"x2"},"y2":{"field":"d2"},"color":{"field":"key","type":"nominal","legend":null}}},
{"data":{"name":"arrows"},"mark":{"type":"point","filled":true,"opacity":1,"size":1800,"angle":30,"shape":"M0,0L-0.45,-1L0.45,-1Z","strokeWidth":0},"encoding":{"x":{"field":"x2","type":"quantitative"},"y":{"field":"d2","type":"quantitative"},"color":{"field":"key","type":"nominal","legend":null}}}
]
}
